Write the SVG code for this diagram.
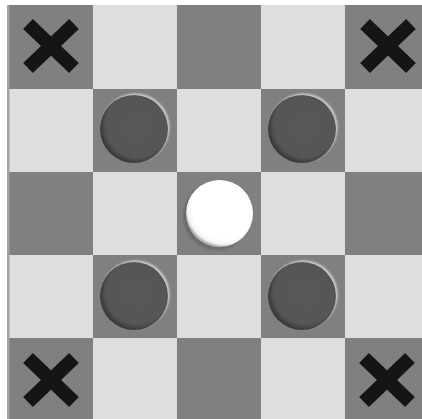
<svg xmlns="http://www.w3.org/2000/svg" width="422" height="419" viewBox="0 0 422 419">
  <defs>
    <style>
      .dk { fill: #808080; }
      .lt { fill: #dedede; }
      .x { stroke: #151515; stroke-width: 14; stroke-linecap: butt; fill: none; }
    </style>
    <radialGradient id="darkDisk" cx="55%" cy="45%" r="55%">
      <stop offset="0" stop-color="#585858"/>
      <stop offset="0.85" stop-color="#555555"/>
      <stop offset="1" stop-color="#3a3a3a"/>
    </radialGradient>
    <radialGradient id="whiteDisk" cx="56%" cy="42%" r="58%">
      <stop offset="0" stop-color="#ffffff"/>
      <stop offset="0.8" stop-color="#ffffff"/>
      <stop offset="0.93" stop-color="#f4f4f4"/>
      <stop offset="1" stop-color="#b0b0b0"/>
    </radialGradient>
    <filter id="soft" x="-20%" y="-20%" width="140%" height="140%">
      <feGaussianBlur stdDeviation="1.2"/>
    </filter>
    <filter id="softer" x="-20%" y="-20%" width="140%" height="140%">
      <feGaussianBlur stdDeviation="0.6"/>
    </filter>
    <g id="darkPiece">
      <circle cx="1.5" cy="-1.5" r="34" fill="#d2d2d2" filter="url(#soft)"/>
      <circle cx="0" cy="0" r="34" fill="url(#darkDisk)"/>
    </g>
    <g id="xMark">
      <line class="x" x1="-23" y1="-22" x2="23" y2="22"/>
      <line class="x" x1="23" y1="-22" x2="-23" y2="22"/>
    </g>
  </defs>

  <rect x="0" y="0" width="422" height="419" fill="#ffffff"/>

  <g id="board">
    <rect class="dk" x="9" y="5" width="84" height="84"/>
    <rect class="lt" x="93" y="5" width="84" height="84"/>
    <rect class="dk" x="177" y="5" width="84" height="84"/>
    <rect class="lt" x="261" y="5" width="84" height="84"/>
    <rect class="dk" x="345" y="5" width="84" height="84"/>
    <rect class="lt" x="9" y="89" width="84" height="83"/>
    <rect class="dk" x="93" y="89" width="84" height="83"/>
    <rect class="lt" x="177" y="89" width="84" height="83"/>
    <rect class="dk" x="261" y="89" width="84" height="83"/>
    <rect class="lt" x="345" y="89" width="84" height="83"/>
    <rect class="dk" x="9" y="172" width="84" height="83"/>
    <rect class="lt" x="93" y="172" width="84" height="83"/>
    <rect class="dk" x="177" y="172" width="84" height="83"/>
    <rect class="lt" x="261" y="172" width="84" height="83"/>
    <rect class="dk" x="345" y="172" width="84" height="83"/>
    <rect class="lt" x="9" y="255" width="84" height="83"/>
    <rect class="dk" x="93" y="255" width="84" height="83"/>
    <rect class="lt" x="177" y="255" width="84" height="83"/>
    <rect class="dk" x="261" y="255" width="84" height="83"/>
    <rect class="lt" x="345" y="255" width="84" height="83"/>
    <rect class="dk" x="9" y="338" width="84" height="84"/>
    <rect class="lt" x="93" y="338" width="84" height="84"/>
    <rect class="dk" x="177" y="338" width="84" height="84"/>
    <rect class="lt" x="261" y="338" width="84" height="84"/>
    <rect class="dk" x="345" y="338" width="84" height="84"/>
    <rect x="7" y="5" width="2.5" height="414" fill="#a2a2a2"/>
  </g>

  <g id="marks">
    <use id="x-top-left" href="#xMark" x="51" y="46"/>
    <use id="x-top-right" href="#xMark" x="388" y="46"/>
    <use id="x-bottom-left" href="#xMark" x="51" y="380"/>
    <use id="x-bottom-right" href="#xMark" x="387" y="380"/>
  </g>

  <g id="pieces">
    <use id="dark-1" href="#darkPiece" x="134" y="129"/>
    <use id="dark-2" href="#darkPiece" x="302" y="129"/>
    <use id="dark-3" href="#darkPiece" x="134" y="296"/>
    <use id="dark-4" href="#darkPiece" x="302" y="296"/>
    <g id="white-piece">
      <circle cx="217" cy="216" r="34" fill="#6a6a6a" filter="url(#soft)"/>
      <circle cx="219.5" cy="213.5" r="33.5" fill="url(#whiteDisk)" filter="url(#softer)"/>
    </g>
  </g>
</svg>
